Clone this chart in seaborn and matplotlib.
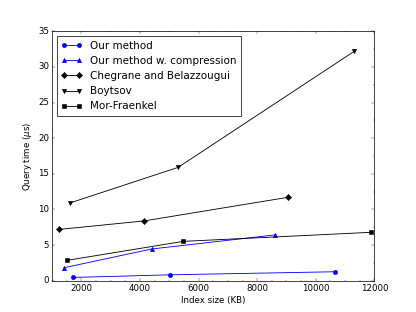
import matplotlib
matplotlib.use("Agg")
import matplotlib.pyplot as plt
import pandas as pd
import seaborn as sns
from matplotlib.ticker import AutoMinorLocator

# index size (KB) and query time (microseconds) per method
ours_size = [1710, 5040, 10670]
ours_time = [0.47, 0.84, 1.27]

comp_size = [1410, 4400, 8600]
comp_time = [1.83, 4.46, 6.43]

chegrane_size = [1230, 4150, 9040]
chegrane_time = [7.2, 8.4, 11.7]

boytsov_size = [1600, 5300, 11320]
boytsov_time = [10.9, 15.9, 32.2]

mor_size = [1500, 5480, 11890]
mor_time = [2.86, 5.53, 6.8]

series = [
    ("Our method", ours_size, ours_time, "b", "o"),
    ("Our method w. compression", comp_size, comp_time, "b", "^"),
    ("Chegrane and Belazzougui", chegrane_size, chegrane_time, "k", "D"),
    ("Boytsov", boytsov_size, boytsov_time, "k", "v"),
    ("Mor-Fraenkel", mor_size, mor_time, "k", "s"),
]

plt.style.use("classic")
plt.rcParams.update({
    "font.family": "DejaVu Sans",
    "font.size": 12,
    "legend.fontsize": 14.4,
    "mathtext.fontset": "dejavusans",
})

fig, ax = plt.subplots(figsize=(8, 6), dpi=52)
fig.patch.set_facecolor("white")

for name, xs, ys, color, marker in series:
    df = pd.DataFrame({"size": xs, "time": ys})
    sns.lineplot(data=df, x="size", y="time", ax=ax, color=color, marker=marker,
                 markersize=6, markeredgecolor=color, linewidth=1.2, sort=False,
                 label=name)

ax.set_xlim(1000, 12000)
ax.set_ylim(0, 35)
ax.set_xticks([2000, 4000, 6000, 8000, 10000, 12000])
ax.set_yticks([0, 5, 10, 15, 20, 25, 30, 35])
ax.xaxis.set_minor_locator(AutoMinorLocator(4))
ax.yaxis.set_minor_locator(AutoMinorLocator(2))
ax.set_xlabel("Index size (KB)")
ax.set_ylabel(r"Query time ($\mu$s)")
ax.legend(loc="upper left", numpoints=2, fancybox=False)

fig.savefig("out.png", dpi=52, facecolor="white")
